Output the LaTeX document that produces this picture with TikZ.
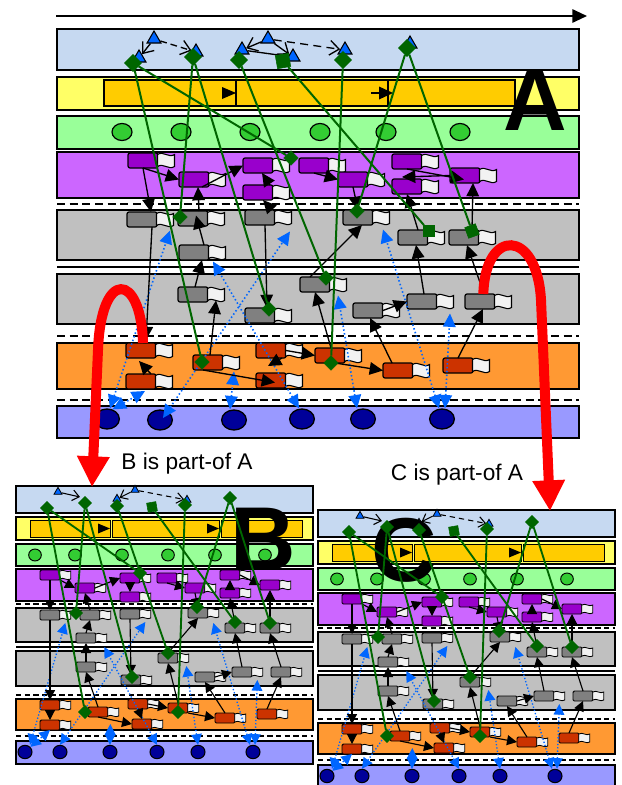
\documentclass[tikz,border=0pt]{standalone}
\usepackage{fontspec}
\setmainfont{Liberation Sans}
\usetikzlibrary{shapes.geometric,arrows.meta}
\definecolor{bandblue}{HTML}{C6D9F1}
\definecolor{bandyellow}{HTML}{FFFF66}
\definecolor{barorange}{HTML}{FFCC00}
\definecolor{bandgreen}{HTML}{99FF99}
\definecolor{circgreen}{HTML}{33CC33}
\definecolor{bandpurple}{HTML}{CC66FF}
\definecolor{devpurple}{HTML}{9900CC}
\definecolor{bandgray}{HTML}{C0C0C0}
\definecolor{devgray}{HTML}{808080}
\definecolor{bandorange}{HTML}{FF9933}
\definecolor{devorange}{HTML}{CC3300}
\definecolor{bandviolet}{HTML}{9999FF}
\definecolor{circnavy}{HTML}{000099}
\definecolor{triblue}{HTML}{0066FF}
\definecolor{dgreen}{HTML}{006600}
\definecolor{flagw}{HTML}{F2F2F2}
\tikzset{
  devboxA/.style={draw=black,line width=0.9pt,rounded corners=1.5pt,minimum width=22.5pt,minimum height=11.25pt,inner sep=0pt,outer sep=0pt,anchor=north west},
  devboxB/.style={draw=black,line width=0.7pt,rounded corners=1pt,minimum width=15pt,minimum height=7.5pt,inner sep=0pt,outer sep=0pt,anchor=north west},
  flagA/.pic={\draw[fill=flagw,line width=0.8pt] (-8.5,-6) .. controls (-2.5,-10) and (2.5,-2) .. (8.5,-6) -- (8.5,6) .. controls (2.5,10) and (-2.5,2) .. (-8.5,6) -- cycle;},
  flagB/.pic={\draw[fill=flagw,line width=0.6pt] (-5.5,-4) .. controls (-1.5,-6.5) and (1.5,-1.5) .. (5.5,-4) -- (5.5,4) .. controls (1.5,6.5) and (-1.5,1.5) .. (-5.5,4) -- cycle;},
  bandA/.style={draw=black,line width=1.1pt},
  bandB/.style={draw=black,line width=0.9pt},
  barA/.style={draw=black,line width=0.9pt,fill=barorange},
  barB/.style={draw=black,line width=0.7pt,fill=barorange},
  dashA/.style={draw=black,line width=1.5pt,dash pattern=on 6pt off 3.5pt},
  dashB/.style={draw=black,line width=1.1pt,dash pattern=on 4pt off 2.5pt},
  gcA/.style={ellipse,draw=black,line width=0.9pt,fill=circgreen,minimum width=15pt,minimum height=12.75pt,inner sep=0pt},
  gcB/.style={ellipse,draw=black,line width=0.7pt,fill=circgreen,minimum width=9.5pt,minimum height=9pt,inner sep=0pt},
  circA/.style={ellipse,draw=black,line width=1pt,fill=circnavy,minimum width=18.5pt,minimum height=15pt,inner sep=0pt},
  circB/.style={ellipse,draw=black,line width=0.8pt,fill=circnavy,minimum width=10.5pt,minimum height=10pt,inner sep=0pt},
  triA/.style={regular polygon,regular polygon sides=3,draw=black,line width=0.8pt,fill=triblue,minimum size=12pt,inner sep=0pt},
  triB/.style={regular polygon,regular polygon sides=3,draw=black,line width=0.6pt,fill=triblue,minimum size=7pt,inner sep=0pt},
  gdAt/.style={diamond,draw=dgreen,fill=dgreen,minimum size=13pt,inner sep=0pt},
  gdA/.style={diamond,draw=dgreen,fill=dgreen,minimum size=11pt,inner sep=0pt},
  gsqA/.style={rectangle,draw=dgreen,fill=dgreen,minimum size=8.5pt,inner sep=0pt},
  gdB/.style={diamond,draw=dgreen,fill=dgreen,minimum size=10pt,inner sep=0pt},
  gsqB/.style={rectangle,draw=dgreen,fill=dgreen,minimum size=7pt,inner sep=0pt},
  glA/.style={draw=dgreen,line width=1.5pt},
  glB/.style={draw=dgreen,line width=1.4pt},
  blkA/.style={draw=black,line width=1pt,-{Triangle[length=10pt,width=9.5pt]}},
  blkB/.style={draw=black,line width=0.85pt,-{Triangle[length=7.5pt,width=7.5pt]}},
  dotA/.style={draw=triblue,line width=1.2pt,dash pattern=on 1.1pt off 1.8pt,{Triangle[length=10pt,width=9.5pt]}-{Triangle[length=10pt,width=9.5pt]}},
  dotB/.style={draw=triblue,line width=1pt,dash pattern=on 1pt off 1.5pt,{Triangle[length=8pt,width=8pt]}-{Triangle[length=8pt,width=8pt]}},
  openA/.style={draw=black,line width=1pt,-{Straight Barb[length=7pt,width=11pt]}},
  openB/.style={draw=black,line width=0.8pt,-{Straight Barb[length=5pt,width=8pt]}},
  redline/.style={draw=red,line width=7.5pt,-{Triangle[length=23pt,width=23pt]}},
  bigletter/.style={font=\fontsize{66}{66}\selectfont\bfseries,inner sep=0pt,anchor=base},
  biglettB/.style={font=\fontsize{68}{68}\selectfont\bfseries,inner sep=0pt,anchor=base},
  lab/.style={font=\fontsize{17}{20}\selectfont,inner sep=0pt,anchor=base}
}
\newcommand\devA[4]{\node[devboxA,fill=#4] (#1) at (#2,#3) {};\coordinate (#1f) at ([xshift=6pt]#1.east);\pic at (#1f) {flagA};}
\newcommand\devB[4]{\node[devboxB,fill=#4] (#1) at (#2,#3) {};\coordinate (#1f) at ([xshift=4pt]#1.east);\pic at (#1f) {flagB};}
\newcommand\panelBC[4]{%
\draw[bandB,fill=bandblue] (16,486) rectangle (313,513);
\draw[bandB,fill=bandyellow] (16,517) rectangle (313,540);
\draw[barB] (30,520) rectangle (110,537);
\draw[barB] (112,520) rectangle (219,537);
\draw[barB] (221,520) rectangle (302,537);
\fill (98,523.5) -- (110,528.5) -- (98,533.5) -- cycle;
\fill (207,523.5) -- (219,528.5) -- (207,533.5) -- cycle;
\draw[bandB,fill=bandgreen] (16,544) rectangle (313,566);
\node[gcB] (#1g1) at (35,555) {};
\node[gcB] (#1g2) at (75,555) {};
\node[gcB] (#1g3) at (122,555) {};
\node[gcB] (#1g4) at (168,555) {};
\node[gcB] (#1g5) at (215,555) {};
\node[gcB] (#1g6) at (265,555) {};
\draw[bandB,fill=bandpurple] (16,569) rectangle (313,601);
\draw[dashB] (16,604) -- (313,604);
\draw[bandB,fill=bandgray] (16,608) rectangle (313,642);
\draw[line width=1.5pt] (16,647) -- (313,647);
\draw[bandB,fill=bandgray] (16,651) rectangle (313,686);
\draw[dashB] (16,695) -- (313,695);
\draw[bandB,fill=bandorange] (16,699) rectangle (313,730);
\draw[dashB] (16,736) -- (313,736);
\draw[bandB,fill=bandviolet] (16,741) rectangle (313,764);
\node[circB] (#1C1) at (25,752) {};
\node[circB] (#1C2) at (60,752) {};
\node[circB] (#1C3) at (110,752) {};
\node[circB] (#1C4) at (157,752) {};
\node[circB] (#1C5) at (198,752) {};
\node[circB] (#1C6) at (253,752) {};
\node[triB] (#1TB1) at (58,492) {};
\node[triB] (#1TB2) at (117,499) {};
\node[triB] (#1TB3) at (135,490) {};
\node[triB] (#1TB4) at (187,500) {};
\node[biglettB] (#1L) at (#3,#4) {#2};
\devB{#1PB1}{40}{570}{devpurple}
\devB{#1PB2}{75}{583}{devpurple}
\devB{#1PB3}{120}{573}{devpurple}
\devB{#1PB4}{120}{592}{devpurple}
\devB{#1PB5}{157}{573}{devpurple}
\devB{#1PB6}{185}{583}{devpurple}
\devB{#1PB7}{220}{570}{devpurple}
\devB{#1PB8}{220}{588}{devpurple}
\devB{#1PB9}{260}{580}{devpurple}
\devB{#1GB1}{40}{610}{devgray}
\devB{#1GB2}{80}{610}{devgray}
\devB{#1GB3}{120}{609}{devgray}
\devB{#1GB4}{188}{608}{devgray}
\devB{#1GB5}{225}{623}{devgray}
\devB{#1GB6}{260}{623}{devgray}
\devB{#1GB7}{76}{633}{devgray}
\devB{#1GB8}{158}{653}{devgray}
\devB{#1GB9}{76}{662}{devgray}
\devB{#1GB10}{121}{675}{devgray}
\devB{#1GB11}{195}{672}{devgray}
\devB{#1GB12}{232}{667}{devgray}
\devB{#1GB13}{271}{667}{devgray}
\devB{#1OB1}{40}{700}{devorange}
\devB{#1OB2}{40}{720}{devorange}
\devB{#1OB3}{88}{707}{devorange}
\devB{#1OB4}{128}{699}{devorange}
\devB{#1OB5}{132}{719}{devorange}
\devB{#1OB6}{168}{703}{devorange}
\devB{#1OB7}{215}{713}{devorange}
\devB{#1OB8}{257}{709}{devorange}
\draw[dotB] ([shift={(5,0)}]#1C1.north) -- ([shift={(0,8)}]#1GB1f);
\draw[dotB] (#1C1.north east) -- (#1OB2.south);
\draw[dotB] (#1C2.north) -- ([shift={(0,8)}]#1GB3f);
\draw[dotB] (#1C3.north) -- ([shift={(-3,12)}]#1OB3f);
\draw[dotB] (#1C4.north) -- ([shift={(3,9)}]#1GB7f);
\draw[dotB] (#1C5.north) -- ([shift={(3,8)}]#1GB8f);
\draw[dotB] ([shift={(-3,0)}]#1C6.north) -- ([shift={(0,10)}]#1GB4f);
\draw[dotB] ([shift={(2,0)}]#1C6.north) -- ([shift={(0,8)}]#1GB12f);
\draw[blkB] (#1PB1.south) -- (#1GB1.north);
\draw[blkB] (#1PB1.south east) -- (#1PB2.west);
\draw[blkB] (#1PB2.east) -- (#1PB3.west);
\draw[blkB] (#1PB3.south) -- (#1PB4.north);
\draw[blkB] (#1GB3.south) -- (#1GB10.north);
\draw[blkB] (#1PB5.south) -- (#1PB6.west);
\draw[blkB] (#1PB6.south) -- (#1GB4.north);
\draw[blkB] (#1PB7.east) -- (#1PB9.west);
\draw[blkB] (#1PB8.north) -- (#1PB7.south);
\draw[blkB] (#1GB5.north) -- (#1PB8.south);
\draw[blkB] (#1GB6.north) -- (#1PB9.south);
\draw[blkB] (#1GB12.north) -- (#1GB5.south);
\draw[blkB] (#1GB13.north) -- (#1GB6.south);
\draw[blkB] (#1GB11.east) -- (#1GB12.west);
\draw[blkB] (#1OB6.north) -- (#1GB8.south);
\draw[blkB] (#1OB7.north) -- (#1GB11.south);
\draw[blkB] (#1OB8.north) -- (#1GB13.south);
\draw[blkB] (#1OB4.east) -- (#1OB6.west);
\draw[blkB] (#1OB6.south east) -- (#1OB7.west);
\draw[blkB] (#1OB3.south) -- (#1OB5.west);
\draw[blkB] (#1OB4.south) -- (#1OB5.north);
\draw[blkB] (#1OB1.south) -- (#1OB2.north);
\draw[blkB] (#1GB1.south) -- (#1OB1.north);
\draw[blkB] (#1GB2.north) -- (#1PB2.south);
\draw[blkB] (#1GB7.north) -- (#1GB2.south);
\draw[blkB] (#1GB9.north) -- (#1GB7.south);
\draw[blkB] (#1OB3.north) -- (#1GB9.south);
\draw[blkB] (#1GB8.north) -- (#1GB4.south);
\coordinate (#1tbx) at (80,497);
\draw[openB] (#1TB1) -- (#1tbx);
\draw[openB] (#1TB3) -- (#1TB2);
\draw[openB,dash pattern=on 4pt off 3pt] (#1TB3) -- (#1TB4);
\node[gdB] (#1DB1) at (47,508) {};
\node[gdB] (#1DB2) at (85,503) {};
\node[gdB] (#1DB3) at (117,506) {};
\node[gsqB,rotate=10] (#1DB4) at (152,507) {};
\node[gdB] (#1DB5) at (185,505) {};
\node[gdB] (#1DB6) at (230,498) {};
\node[gdB] (#1EB1) at (85,712) {};
\node[gdB] (#1EB2) at (140,573) {};
\node[gdB] (#1EB3) at (76,613) {};
\node[gdB] (#1EB4) at (132,677) {};
\node[gdB] (#1EB5) at (168,653) {};
\node[gdB] (#1EB6) at (235,622) {};
\node[gdB] (#1EB7) at (178,712) {};
\node[gdB] (#1EB8) at (197,607) {};
\node[gdB] (#1EB9) at (270,623) {};
\draw[glB] (#1DB1) -- (#1EB1);
\draw[glB] (#1DB1) -- (#1EB2);
\draw[glB] (#1DB2) -- (#1EB3);
\draw[glB] (#1DB2) -- (#1EB4);
\draw[glB] (#1DB3) -- (#1EB5);
\draw[glB] (#1DB4) -- (#1EB6);
\draw[glB] (#1DB5) -- (#1EB7);
\draw[glB] (#1DB6) -- (#1EB8);
\draw[glB] (#1DB6) -- (#1EB9);
}
\begin{document}
\begin{tikzpicture}[x=0.75pt,y=-0.75pt]
\useasboundingbox (0,0) rectangle (621,785);
\fill[white] (0,0) rectangle (621,785);
% time arrow
\coordinate (ta0) at (56,16);
\coordinate (ta1) at (587,16);
\draw[line width=1.4pt,-{Triangle[length=11pt,width=10pt]}] (ta0) -- (ta1);
% ---------- panel A bands ----------
\draw[bandA,fill=bandblue] (57,29) rectangle (579,70);
\draw[bandA,fill=bandyellow] (57,77) rectangle (579,110);
\draw[barA] (104,80) rectangle (236,106);
\draw[barA] (236,80) rectangle (388,106);
\draw[barA] (388,80) rectangle (515,106);
\fill (222,87) -- (236,93) -- (222,99) -- cycle;
\draw[line width=1pt] (371,93) -- (380,93);
\fill (379,86.5) -- (393,93) -- (379,99.5) -- cycle;
\draw[bandA,fill=bandgreen] (57,116) rectangle (579,149);
\node[gcA] (gA1) at (122,132) {};
\node[gcA] (gA2) at (181,132) {};
\node[gcA] (gA3) at (250,132) {};
\node[gcA] (gA4) at (320,132) {};
\node[gcA] (gA5) at (386,132) {};
\node[gcA] (gA6) at (460,132) {};
\draw[bandA,fill=bandpurple] (57,152) rectangle (579,198);
\draw[dashA] (57,204) -- (579,204);
\draw[bandA,fill=bandgray] (57,210) rectangle (579,260);
\draw[line width=2.2pt] (57,267) -- (579,267);
\draw[bandA,fill=bandgray] (57,274) rectangle (579,324);
\draw[dashA] (57,336) -- (579,336);
\draw[bandA,fill=bandorange] (57,343) rectangle (579,389);
\draw[dashA] (57,400) -- (579,400);
\draw[bandA,fill=bandviolet] (57,406) rectangle (579,438);
\node[circA] (C1) at (107,419) {};
\node[circA] (C2) at (160,420) {};
\node[circA] (C3) at (234,420) {};
\node[circA] (C4) at (302,419) {};
\node[circA] (C5) at (363,419) {};
\node[circA] (C6) at (442,419) {};
\node[triA] (T1) at (154,39) {};
\node[triA] (T2) at (139,58) {};
\node[triA] (T3) at (196,52) {};
\node[triA] (T4) at (242,50) {};
\node[triA] (T5) at (268,39) {};
\node[triA] (T6) at (293,57) {};
\node[triA] (T7) at (345,50) {};
\node[triA] (T8) at (410,44) {};
\node[bigletter] (LA) at (535,130) {A};
% devices A
\devA{P1}{128}{153}{devpurple}
\devA{P2}{179}{172}{devpurple}
\devA{P3}{243}{158}{devpurple}
\devA{P4}{243}{185}{devpurple}
\devA{P5}{299}{158}{devpurple}
\devA{P6}{338}{172}{devpurple}
\devA{P7}{392}{154}{devpurple}
\devA{P8}{392}{179}{devpurple}
\devA{P9}{450}{168}{devpurple}
\devA{G1}{127}{212}{devgray}
\devA{G2}{178}{211}{devgray}
\devA{G3}{245}{210}{devgray}
\devA{G4}{343}{210}{devgray}
\devA{G5}{398}{230}{devgray}
\devA{G6}{449}{230}{devgray}
\devA{G7}{179}{245}{devgray}
\devA{G8}{300}{277}{devgray}
\devA{G9}{178}{287}{devgray}
\devA{G10}{245}{308}{devgray}
\devA{G11}{353}{303}{devgray}
\devA{G12}{407}{294}{devgray}
\devA{G13}{465}{294}{devgray}
\devA{O1}{126}{343}{devorange}
\devA{O2}{126}{374}{devorange}
\devA{O3}{193}{355}{devorange}
\devA{O4}{256}{343}{devorange}
\devA{O5}{256}{373}{devorange}
\devA{O6}{315}{348}{devorange}
\devA{O7}{383}{363}{devorange}
\devA{O8}{443}{358}{devorange}
% blue dotted A
\draw[dotA] ([shift={(3,0)}]C1.north) -- ([shift={(5,11)}]G1f);
\draw[dotA] (C1.60) -- ([shift={(4,2)}]O2.south);
\draw[dotA] ([shift={(3,-2)}]C2.center) -- ([shift={(7,14)}]G3f);
\draw[dotA] ([shift={(-4,0)}]C3.north) -- ([shift={(3,9)}]O3f);
\draw[dotA] ([shift={(-3,0)}]C4.north) -- ([shift={(-4,9)}]G7f);
\draw[dotA] ([shift={(-6,0)}]C5.north) -- ([shift={(0,11)}]G8f);
\draw[dotA] ([shift={(-3,0)}]C6.north) -- ([shift={(2,12)}]G4f);
\draw[dotA] ([shift={(3,0)}]C6.north) -- ([shift={(5,12)}]G12f);
% black arrows A
\draw[blkA] (P1.south) -- (P2.west);
\draw[blkA] (P1.south) -- ([shift={(9,0)}]G1.north);
\draw[blkA] ([shift={(8,0)}]P2.south) -- (P3.west);
\draw[blkA] ([shift={(12,0)}]P4.north) -- ([shift={(4,0)}]P3.south);
\draw[blkA] ([shift={(12,0)}]G3.north) -- ([shift={(5,0)}]P4.south);
\draw[blkA] (P5.south) -- (P6.west);
\draw[blkA] (P6.south) -- (G4.north);
\draw[blkA] (P7.south) -- ([shift={(14,4)}]P9.west);
\draw[blkA] (P9.west) -- ([shift={(-5,-2)}]P8.north);
\draw[blkA] ([shift={(5,0)}]G5.north) -- (P8.south);
\draw[blkA] ([shift={(8,0)}]G6.north) -- ([shift={(8,0)}]P9.south);
\draw[blkA] ([shift={(6,0)}]G2.north) -- ([shift={(4,0)}]P2.south);
\draw[blkA] ([shift={(10,0)}]G7.north) -- ([shift={(3,-3)}]G2.center);
\draw[blkA] ([shift={(2,0)}]G9.north) -- ([shift={(8,0)}]G7.south);
\draw[blkA] ([shift={(10,0)}]G1.south) -- ([shift={(5,-3)}]O1.north);
\draw[blkA] ([shift={(5,0)}]G3.south) -- ([shift={(7,0)}]G10.north);
\draw[blkA] ([shift={(-5,0)}]G8.north) -- ([shift={(4,0)}]G4.south);
\draw[blkA] ([shift={(2,0)}]G12.north) -- ([shift={(3,0)}]G5.south);
\draw[blkA] ([shift={(4,0)}]G13.north) -- ([shift={(3,0)}]G6.south);
\draw[blkA] (G11.east) -- (G12.west);
\draw[blkA] ([shift={(2,0)}]O3.north) -- ([shift={(0,6)}]G9f);
\draw[blkA] ([shift={(-5,0)}]O3.south) -- ([shift={(4,2)}]O5.center);
\draw[blkA] ([shift={(10,0)}]O2.north) -- ([shift={(-2,3)}]O1.south);
\draw[blkA] ([shift={(11,0)}]O4.south) -- ([shift={(-3,-7)}]O5.north);
\draw[blkA] (O4.east) -- (O6.west);
\draw[blkA] ([shift={(5,0)}]O6.south) -- (O7.west);
\draw[blkA] ([shift={(-6,0)}]O7.north) -- ([shift={(2,0)}]G11.south);
\draw[blkA] ([shift={(1,0)}]O6.north) -- (G8.south);
\draw[blkA] (O8.north) -- ([shift={(3,0)}]G13.south);
% open arrows in top band
\draw[openA] (T1) -- (T2);
\draw[openA,dash pattern=on 5pt off 3pt] (T1) -- (T3);
\draw[openA] (T5) -- (T4);
\draw[openA] (T5) -- (T6);
\draw[line width=1pt] (T4) -- (T6);
\draw[openA,dash pattern=on 6pt off 4pt] (T5) -- (T7);
% green diamonds and lines A
\node[gdAt] (D1) at (133,63) {};
\node[gdAt] (D2) at (193,57) {};
\node[gdAt] (D3) at (239,60) {};
\node[gsqA,minimum size=10pt,rotate=10] (D4) at (283,61) {};
\node[gdAt] (D5) at (343,60) {};
\node[gdAt] (D6) at (407,48) {};
\node[gdA] (E1) at (202,362) {};
\node[gdA] (E2) at (291,158) {};
\node[gdA] (E3) at (180,217) {};
\node[gdA] (E4) at (269,309) {};
\node[gdA] (E5) at (326,278) {};
\node[gsqA] (E6) at (429,231) {};
\node[gdA] (E7) at (331,363) {};
\node[gdA] (E8) at (357,211) {};
\node[gsqA,rotate=20] (E9) at (472,231) {};
\draw[glA] (D1) -- (E1);
\draw[glA] (D1) -- (E2);
\draw[glA] (D2) -- (E3);
\draw[glA] (D2) -- (E4);
\draw[glA] (D3) -- (E5);
\draw[glA] (D4) -- (E6);
\draw[glA] (D5) -- (E7);
\draw[glA] (D6) -- (E8);
\draw[glA] (D6) -- (E9);
% ---------- panels B and C ----------
\panelBC{b}{B}{263}{570}
\begin{scope}[shift={(302,24)}]
\panelBC{c}{C}{102}{557}
\end{scope}
% labels
\node[lab] (labB) at (187,469) {B is part-of A};
\node[lab] (labC) at (457,480) {C is part-of A};
% red part-of arrows
\coordinate (rL) at (92,487);
\coordinate (rR) at (550,511);
\draw[redline] ([xshift=1.5pt]O1.north) .. controls (141,272) and (101,268) .. (98,350) -- (rL);
\draw[redline] ([xshift=2.5pt]G13.north) .. controls (485,228) and (537,228) .. (541,300) -- (rR);
\end{tikzpicture}
\end{document}
